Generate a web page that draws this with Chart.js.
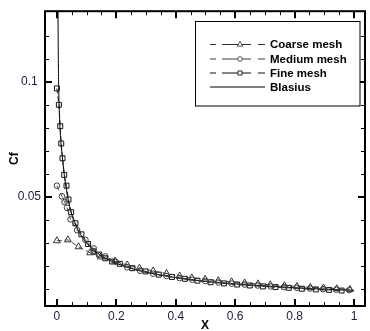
<!DOCTYPE html>
<html>
<head>
<meta charset="utf-8">
<script src="https://cdn.jsdelivr.net/npm/chart.js@4.4.1/dist/chart.umd.min.js"></script>
<style>
  html, body { margin: 0; padding: 0; background: #fff; }
  canvas { display: block; }
</style>
</head>
<body>
<canvas id="c" width="370" height="331"></canvas>
<script>
// Skin-friction coefficient along the plate
const coarseX  = [0, 0.037, 0.073, 0.112, 0.148, 0.196, 0.237, 0.278, 0.324, 0.369, 0.413, 0.454, 0.499, 0.543, 0.588, 0.632, 0.677, 0.718, 0.766, 0.808, 0.853, 0.897, 0.942, 0.986];
const coarseCf = [0.0310, 0.0314, 0.0284, 0.0258, 0.0240, 0.0222, 0.0205, 0.0191, 0.0179, 0.0168, 0.0157, 0.0149, 0.0143, 0.0137, 0.0132, 0.0127, 0.0123, 0.0119, 0.0115, 0.0112, 0.0108, 0.0105, 0.0102, 0.0099];

const mediumX  = [0, 0.017, 0.026, 0.034, 0.046, 0.068, 0.096, 0.124, 0.163, 0.198, 0.237, 0.280, 0.324, 0.369, 0.413, 0.456, 0.500, 0.544, 0.588, 0.632, 0.676, 0.720, 0.764, 0.808, 0.852, 0.896, 0.940, 0.984];
const mediumCf = [0.0549, 0.0503, 0.0478, 0.0453, 0.0403, 0.0356, 0.0314, 0.0277, 0.0242, 0.0219, 0.0195, 0.0180, 0.0167, 0.0157, 0.0148, 0.0141, 0.0135, 0.0129, 0.0124, 0.0120, 0.0116, 0.0112, 0.0109, 0.0106, 0.0103, 0.0100, 0.0098, 0.0096];

const fineX  = [0, 0.0067, 0.0114, 0.0147, 0.019, 0.0247, 0.0324, 0.039, 0.048, 0.0624, 0.0825, 0.105, 0.1235, 0.1426, 0.1626, 0.186, 0.2117, 0.2538, 0.2985, 0.343, 0.3873, 0.4307, 0.4731, 0.5175, 0.5623, 0.6067, 0.6491, 0.6935, 0.7359, 0.7806, 0.8247, 0.8715, 0.9162, 0.9583];
const fineCf = [0.0971, 0.0900, 0.0807, 0.0732, 0.0668, 0.0596, 0.0549, 0.0489, 0.0434, 0.0386, 0.0338, 0.0296, 0.0264, 0.0250, 0.0234, 0.0220, 0.0210, 0.0191, 0.0177, 0.0163, 0.0153, 0.0145, 0.0137, 0.0130, 0.0125, 0.0120, 0.0116, 0.0112, 0.0109, 0.0106, 0.0102, 0.0099, 0.0097, 0.0094];

const blasiusX  = [0.003, 0.004, 0.005, 0.006, 0.008, 0.010, 0.0125, 0.015, 0.020, 0.025, 0.030, 0.040, 0.050, 0.060, 0.080, 0.100, 0.120, 0.150, 0.200, 0.250, 0.300, 0.400, 0.500, 0.600, 0.700, 0.800, 0.900, 1.000];
const blasiusCf = [0.150, 0.125, 0.108, 0.098, 0.088, 0.081, 0.0755, 0.0715, 0.0655, 0.0595, 0.0548, 0.0475, 0.0425, 0.0388, 0.0336, 0.0300, 0.0274, 0.0245, 0.0212, 0.0190, 0.0173, 0.0150, 0.0134, 0.0123, 0.0114, 0.0106, 0.0100, 0.0095];

// Axis ticks (every tick gets a mark, only the listed ones get a label)
const xTickValues  = [0, 0.05, 0.1, 0.15, 0.2, 0.25, 0.3, 0.35, 0.4, 0.45, 0.5, 0.55, 0.6, 0.65, 0.7, 0.75, 0.8, 0.85, 0.9, 0.95, 1];
const xLabelValues = [0, 0.2, 0.4, 0.6, 0.8, 1];
const xLabels      = ['0', '0.2', '0.4', '0.6', '0.8', '1'];
const yTickValues  = [0.01, 0.02, 0.03, 0.04, 0.05, 0.06, 0.07, 0.08, 0.09, 0.1, 0.11, 0.12];
const yLabelValues = [0.05, 0.1];
const yLabels      = ['0.05', '0.1'];

const seriesNames = ['Coarse mesh', 'Medium mesh', 'Fine mesh', 'Blasius'];

const pts = (xs, ys) => xs.map((v, i) => ({ x: v, y: ys[i] }));
const labelFor = (vals, labels) => (value) => {
  const i = vals.findIndex(v => Math.abs(v - value) < 1e-9);
  return i >= 0 ? labels[i] : '';
};

Chart.defaults.font.family = '"Liberation Sans", Arial, Helvetica, sans-serif';
Chart.defaults.font.size = 12;
Chart.defaults.color = '#1c1c3c';

const FRAME = { left: 45, top: 8, right: 368, bottom: 306 };

// Boxed plot frame with inward tick marks on all four sides
const frameTicks = {
  id: 'frameTicks',
  afterDatasetsDraw(chart) {
    const { ctx, chartArea: a, scales: { x, y } } = chart;
    ctx.save();
    ctx.strokeStyle = '#000';
    ctx.lineCap = 'butt';
    x.ticks.forEach(t => {
      const px = Math.round(x.getPixelForValue(t.value));
      const major = !!t.label;
      const len = major ? 7 : 4;
      ctx.lineWidth = major ? 2 : 1;
      const off = major ? 0 : 0.5;
      ctx.beginPath();
      ctx.moveTo(px + off, a.bottom); ctx.lineTo(px + off, a.bottom - len);
      ctx.moveTo(px + off, a.top); ctx.lineTo(px + off, a.top + len);
      ctx.stroke();
    });
    y.ticks.forEach(t => {
      const py = Math.round(y.getPixelForValue(t.value));
      const major = !!t.label;
      const len = major ? 7 : 4;
      ctx.lineWidth = major ? 2 : 1;
      const off = major ? 0 : 0.5;
      ctx.beginPath();
      ctx.moveTo(a.left, py + off); ctx.lineTo(a.left + len, py + off);
      ctx.moveTo(a.right, py + off); ctx.lineTo(a.right - len, py + off);
      ctx.stroke();
    });
    ctx.lineWidth = 2;
    ctx.strokeRect(a.left, a.top, a.right - a.left, a.bottom - a.top);
    ctx.restore();
  }
};

// Legend box in the upper right of the plot
const boxLegend = {
  id: 'boxLegend',
  afterDraw(chart) {
    const { ctx } = chart;
    const box = { x: 195.5, y: 21.5, w: 164.5, h: 84.5 };
    ctx.save();
    ctx.fillStyle = '#fff';
    ctx.fillRect(box.x, box.y, box.w, box.h);
    ctx.strokeStyle = '#000';
    ctx.lineWidth = 1;
    ctx.strokeRect(box.x, box.y, box.w, box.h);
    const rowsY = [44, 58.5, 72.5, 86.5];
    const textX = 270, markX = 240;
    // dashed sample: short dash, gap, long dash through the symbol, gap, short dash
    const dashedPieces = [[210, 216], [222, 251], [258, 265]];
    const solidPieces = [[210, 265]];
    chart.data.datasets.forEach((ds, i) => {
      const yy = rowsY[i] + 0.5;
      ctx.strokeStyle = ds.borderColor;
      ctx.lineWidth = 1;
      ctx.beginPath();
      (ds.borderDash ? dashedPieces : solidPieces).forEach(([a, b]) => {
        ctx.moveTo(a, yy); ctx.lineTo(b, yy);
      });
      ctx.stroke();
      if (ds.pointRadius > 0) {
        ctx.fillStyle = '#fff';
        ctx.strokeStyle = ds.pointBorderColor;
        ctx.lineWidth = 0.9;
        Chart.helpers.drawPoint(ctx, {
          pointStyle: ds.pointStyle,
          radius: ds.legendRadius,
          borderWidth: 0.9,
          rotation: 0
        }, markX, yy);
      }
      ctx.fillStyle = '#000';
      ctx.font = 'bold 11.5px "Liberation Sans", Arial, sans-serif';
      ctx.textAlign = 'left';
      ctx.textBaseline = 'middle';
      ctx.fillText(ds.label, textX, yy + 0.5);
    });
    ctx.restore();
  }
};

const meshStyle = (color, style, r, lr) => ({
  showLine: true,
  borderColor: color,
  borderWidth: 0.9,
  borderDash: [5, 3],
  pointStyle: style,
  pointRadius: r,
  legendRadius: lr,
  pointBorderColor: color,
  pointBackgroundColor: 'rgba(0,0,0,0)',
  pointBorderWidth: 1,
  tension: 0
});

new Chart(document.getElementById('c'), {
  type: 'scatter',
  data: {
    datasets: [
      Object.assign({ label: seriesNames[0], data: pts(coarseX, coarseCf) }, meshStyle('#333', 'triangle', 4, 3.2)),
      Object.assign({ label: seriesNames[1], data: pts(mediumX, mediumCf) }, meshStyle('#3a3a3a', 'circle', 2.8, 2.3)),
      Object.assign({ label: seriesNames[2], data: pts(fineX, fineCf) }, meshStyle('#111', 'rect', 3.5, 2.9)),
      {
        label: seriesNames[3],
        data: pts(blasiusX, blasiusCf),
        showLine: true,
        borderColor: '#000',
        borderWidth: 1,
        pointRadius: 0,
        legendRadius: 0,
        cubicInterpolationMode: 'monotone'
      }
    ]
  },
  options: {
    responsive: false,
    animation: false,
    devicePixelRatio: 1,
    layout: { padding: { top: FRAME.top, right: 370 - FRAME.right, left: 0, bottom: 0 } },
    plugins: { legend: { display: false }, tooltip: { enabled: false } },
    scales: {
      x: {
        type: 'linear',
        min: -0.04,
        max: 1.037,
        afterFit: s => { s.height = 331 - FRAME.bottom; },
        afterBuildTicks: s => { s.ticks = xTickValues.map(v => ({ value: v })); },
        grid: { display: false, drawTicks: false },
        border: { display: false },
        ticks: {
          autoSkip: false,
          maxRotation: 0,
          padding: 3,
          callback: labelFor(xLabelValues, xLabels)
        },
        title: {
          display: true,
          text: 'X',
          color: '#000',
          font: { weight: 'bold', size: 12 },
          padding: { top: 0, bottom: -2 }
        }
      },
      y: {
        type: 'linear',
        min: 0.0027,
        max: 0.1306,
        afterFit: s => { s.width = FRAME.left; },
        afterBuildTicks: s => { s.ticks = yTickValues.map(v => ({ value: v })); },
        grid: { display: false, drawTicks: false },
        border: { display: false },
        ticks: {
          autoSkip: false,
          padding: 4,
          crossAlign: 'center',
          callback: labelFor(yLabelValues, yLabels)
        },
        title: {
          display: true,
          text: 'Cf',
          color: '#000',
          font: { weight: 'bold', size: 12 },
          padding: { top: 7, bottom: 0 }
        }
      }
    }
  },
  plugins: [frameTicks, boxLegend]
});
</script>
</body>
</html>
